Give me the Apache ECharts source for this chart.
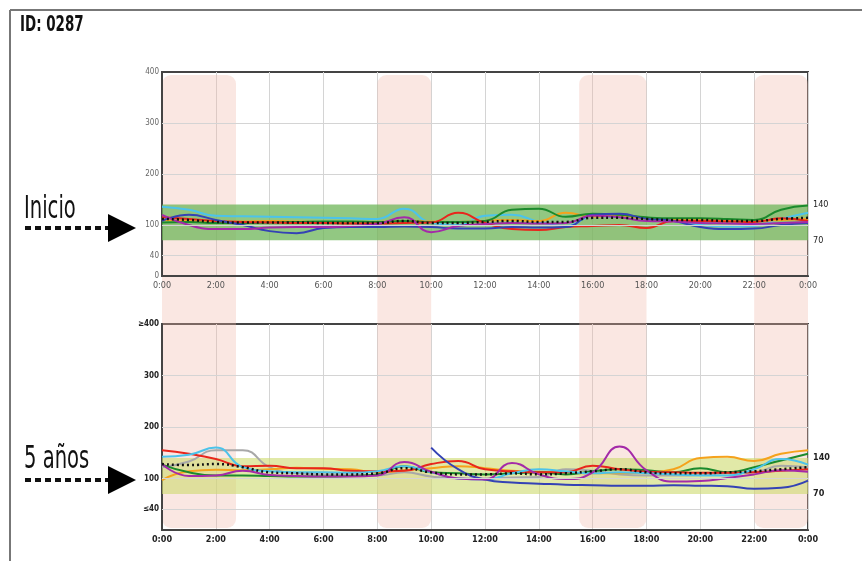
<!DOCTYPE html>
<html>
<head>
<meta charset="utf-8">
<script src="https://cdn.jsdelivr.net/npm/echarts@6/dist/echarts.min.js"></script>
<style>
html, body { margin: 0; padding: 0; background: #fff; }
#main { width: 862px; height: 561px; }
</style>
</head>
<body>
<div id="main"></div>
<script>
// horas 0..24
const hours = [0,1,2,3,4,5,6,7,8,9,10,11,12,13,14,15,16,17,18,19,20,21,22,23,24]
const xTicks = ['0:00','2:00','4:00','6:00','8:00','10:00','12:00','14:00','16:00','18:00','20:00','22:00','0:00']
const nightBands = [[0, 2.75], [8, 10], [15.5, 18], [22, 24]]
const targetRange = [70, 140]
const topYLabels = [0, 40, 100, 200, 300, 400]
const bottomYLabels = [40, 100, 200, 300, 400]

// Inicio
const topCyan   = [136,130,118,117,116,115,114,113,112,132,104,100,118,120,106,98,116,116,112,108,100,97,98,112,124]
const topRed    = [115,112,108,106,105,104,104,103,103,104,105,124,104,92,90,96,98,100,94,108,108,107,106,113,108]
const topBlue   = [108,120,110,100,88,84,94,96,96,97,96,93,93,96,95,96,120,122,112,108,96,92,93,100,104]
const topPurple = [120,100,92,92,95,96,96,98,102,115,86,98,102,104,103,104,118,115,108,107,104,103,102,104,106]
const topGreen  = [105,106,104,104,105,106,107,107,106,108,106,106,108,130,132,116,122,120,115,113,113,112,110,130,138]
const topOrange = [110,108,106,107,108,107,106,105,106,108,107,106,108,110,108,124,116,118,112,110,110,109,108,110,112]
const topMedian = [112,110,106,105,105,105,104,104,104,108,104,104,106,108,106,106,114,114,112,110,110,108,108,112,114]

// 5 años
const botRed    = [155,148,138,124,125,120,120,115,114,115,128,134,118,114,112,112,125,118,113,112,111,111,112,115,118]
const botCyan   = [142,146,160,122,114,112,112,111,114,124,112,100,98,110,118,114,110,112,110,108,106,106,118,138,127]
const botGray   = [122,133,155,155,122,110,108,108,106,112,104,100,100,102,103,118,115,108,106,106,107,110,112,125,122]
const botPurple = [128,105,106,115,107,105,104,104,106,132,113,100,98,130,108,99,112,162,116,94,95,101,108,116,113]
const botOrange = [97,114,117,116,118,121,119,118,112,116,120,124,120,115,113,112,110,110,112,118,140,142,134,148,155]
const botGreen  = [127,112,106,106,105,104,104,105,108,124,112,110,108,110,112,108,114,118,116,112,120,112,122,135,148]
const botBlue   = [null,null,null,null,null,null,null,null,null,null,160,118,98,92,90,88,87,86,86,87,86,85,80,82,96]
const botMedian = [128,126,128,122,112,110,108,108,110,120,112,108,108,110,108,110,114,118,112,110,110,112,114,118,122]

const font = "'DejaVu Sans Condensed', 'Liberation Sans', sans-serif"
const pair = arr => hours.map((h, i) => [h, arr[i]])

const lineSeries = function(name, arr, color, gridIdx, dotted) {
	return {
		name: name,
		type: 'line',
		xAxisIndex: gridIdx,
		yAxisIndex: gridIdx * 2,
		data: pair(arr),
		smooth: true,
		showSymbol: false,
		connectNulls: false,
		z: 4,
		lineStyle: dotted
			? { color: color, width: 2.5, type: [2, 3] }
			: { color: color, width: 2 },
	}
}

const bandSeries = function(gridIdx, color) {
	return {
		type: 'line',
		xAxisIndex: gridIdx,
		yAxisIndex: gridIdx * 2,
		data: [],
		z: 2,
		silent: true,
		markArea: {
			silent: true,
			itemStyle: { color: color },
			data: [[{ xAxis: 0, yAxis: targetRange[0] }, { xAxis: 24, yAxis: targetRange[1] }]],
		},
		markLine: {
			silent: true,
			symbol: 'none',
			label: { show: false },
			lineStyle: { color: '#d4d4d4', width: 1, type: 'solid' },
			data: [{ yAxis: 40 }, { yAxis: 100 }, { yAxis: 200 }, { yAxis: 300 }],
		},
	}
}

const xAxisFor = function(gridIdx, bold) {
	return {
		type: 'value',
		gridIndex: gridIdx,
		min: 0,
		max: 24,
		interval: 2,
		axisLine: { show: true, lineStyle: { color: '#444', width: 2 } },
		axisTick: { show: false },
		axisLabel: {
			fontFamily: font,
			fontSize: 9,
			fontWeight: bold ? 'bold' : 'normal',
			color: bold ? '#222' : '#555',
			margin: 5,
			formatter: v => xTicks[Math.round(v / 2)],
		},
		splitLine: { show: true, lineStyle: { color: '#d4d4d4', width: 1 } },
	}
}

const leftY = function(gridIdx, labels, bold) {
	return {
		type: 'value',
		gridIndex: gridIdx,
		min: 0,
		max: 400,
		interval: 20,
		axisLine: { show: true, lineStyle: { color: '#444', width: 2 } },
		axisTick: { show: false },
		splitLine: { show: false },
		axisLabel: {
			fontFamily: font,
			fontSize: 8,
			fontWeight: bold ? 'bold' : 'normal',
			color: bold ? '#222' : '#666',
			margin: 3,
			formatter: v => {
				if (labels.indexOf(v) < 0) return ''
				if (bold && v === 400) return '≥400'
				if (bold && v === 40) return '≤40'
				return String(v)
			},
		},
	}
}

const rightY = function(gridIdx, bold) {
	return {
		type: 'value',
		gridIndex: gridIdx,
		position: 'right',
		min: 0,
		max: 400,
		interval: 10,
		axisLine: { show: false },
		axisTick: { show: false },
		splitLine: { show: false },
		axisLabel: {
			fontFamily: font,
			fontSize: 9,
			fontWeight: bold ? 'bold' : 'normal',
			color: '#222',
			margin: 5,
			formatter: v => (targetRange.indexOf(v) >= 0 ? String(v) : ''),
		},
	}
}

// texto condensado, como el original
const label = function(text, x, y, size, weight) {
	return {
		type: 'text',
		x: x,
		y: y,
		scaleX: 0.68,
		style: { text: text, font: weight + ' ' + size + 'px ' + font, fill: '#111', textVerticalAlign: 'top' },
	}
}

const chart = echarts.init(document.getElementById('main'), null, { renderer: 'canvas' })

const option = {
	backgroundColor: '#fff',
	animation: false,
	grid: [
		{ left: 162, right: 54, top: 72, height: 204, show: true, borderColor: '#444', borderWidth: 2 },
		{ left: 162, right: 54, top: 324, height: 206, show: true, borderColor: '#444', borderWidth: 2 },
		{ left: 162, right: 54, top: 75, height: 453 },
	],
	xAxis: [
		xAxisFor(0, false),
		xAxisFor(1, true),
		{ type: 'value', gridIndex: 2, min: 0, max: 24, show: false },
	],
	yAxis: [
		leftY(0, topYLabels, false),
		rightY(0, false),
		leftY(1, bottomYLabels, true),
		rightY(1, true),
		{ type: 'value', gridIndex: 2, min: 0, max: 1, show: false },
	],
	series: [
		{
			type: 'custom',
			xAxisIndex: 2,
			yAxisIndex: 4,
			z: 0,
			silent: true,
			data: nightBands,
			renderItem: function(params, api) {
				const p0 = api.coord([api.value(0), 1])
				const p1 = api.coord([api.value(1), 0])
				return {
					type: 'rect',
					shape: { x: p0[0], y: p0[1], width: p1[0] - p0[0], height: p1[1] - p0[1], r: 9 },
					style: { fill: 'rgba(238,180,165,0.32)' },
				}
			},
		},
		bandSeries(0, 'rgba(110,182,88,0.75)'),
		bandSeries(1, 'rgba(205,218,110,0.6)'),
		lineSeries('cyan', topCyan, '#4cc3ea', 0),
		lineSeries('naranja', topOrange, '#f5a21c', 0),
		lineSeries('verde', topGreen, '#1b8a2c', 0),
		lineSeries('rojo', topRed, '#e8261c', 0),
		lineSeries('azul', topBlue, '#3442b5', 0),
		lineSeries('morado', topPurple, '#a42aa8', 0),
		lineSeries('mediana', topMedian, '#111', 0, true),
		lineSeries('gris', botGray, '#a8a8a8', 1),
		lineSeries('naranja', botOrange, '#f5a21c', 1),
		lineSeries('verde', botGreen, '#1b8a2c', 1),
		lineSeries('rojo', botRed, '#e8261c', 1),
		lineSeries('cyan', botCyan, '#4cc3ea', 1),
		lineSeries('azul', botBlue, '#3442b5', 1),
		lineSeries('morado', botPurple, '#a42aa8', 1),
		lineSeries('mediana', botMedian, '#111', 1, true),
	],
	graphic: [
		{ type: 'line', shape: { x1: 10, y1: 10, x2: 862, y2: 10 }, style: { stroke: '#777', lineWidth: 2 } },
		{ type: 'line', shape: { x1: 10, y1: 10, x2: 10, y2: 561 }, style: { stroke: '#777', lineWidth: 2 } },
		label('ID: 0287', 20, 14, 22, 'bold'),
		label('Inicio', 24, 194, 32, 'normal'),
		{ type: 'line', shape: { x1: 25, y1: 228, x2: 108, y2: 228 }, style: { stroke: '#111', lineWidth: 4, lineDash: [6, 4] } },
		{ type: 'polygon', shape: { points: [[108, 214], [136, 228], [108, 242]] }, style: { fill: '#000' } },
		label('5 años', 24, 444, 32, 'normal'),
		{ type: 'line', shape: { x1: 25, y1: 480, x2: 108, y2: 480 }, style: { stroke: '#111', lineWidth: 4, lineDash: [6, 4] } },
		{ type: 'polygon', shape: { points: [[108, 466], [136, 480], [108, 494]] }, style: { fill: '#000' } },
	],
}

chart.setOption(option)
</script>
</body>
</html>
